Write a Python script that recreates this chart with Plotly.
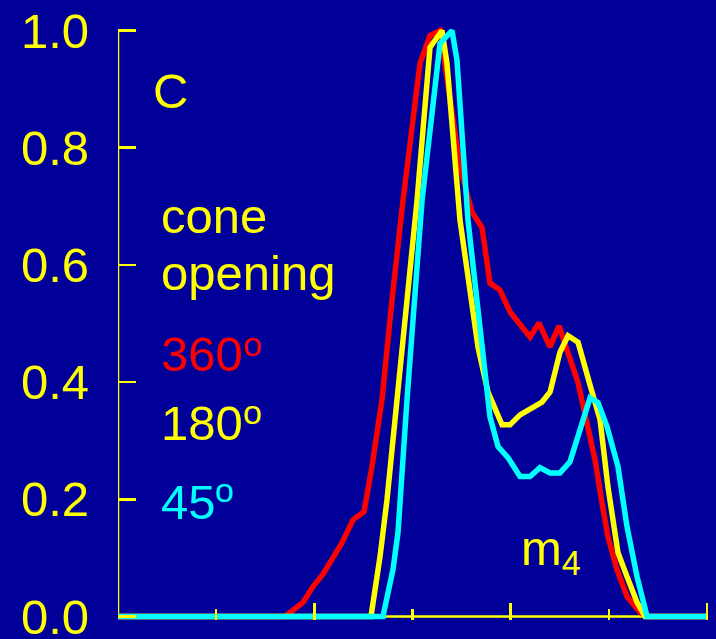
import plotly.graph_objects as go

# ---- data ----
x_red = [0, 1.701, 1.884, 1.986, 2.088, 2.282, 2.394, 2.506, 2.587, 2.689, 2.791, 2.903,
         3.076, 3.178, 3.280, 3.382, 3.484, 3.606, 3.708, 3.789, 3.891, 3.993, 4.197,
         4.288, 4.400, 4.492, 4.604, 4.686, 4.777, 4.859, 4.930, 4.991, 5.083, 5.185,
         5.317, 5.389, 6.0]
y_red = [0, 0, 0.024, 0.051, 0.072, 0.126, 0.165, 0.179, 0.256, 0.370, 0.540, 0.710,
         0.944, 0.991, 1.0, 0.881, 0.767, 0.690, 0.664, 0.569, 0.557, 0.520, 0.477,
         0.501, 0.460, 0.496, 0.443, 0.399, 0.330, 0.267, 0.194, 0.136, 0.080, 0.034,
         0.007, 0, 0]

x_yel = [0, 2.577, 2.669, 2.740, 2.842, 3.046, 3.178, 3.300, 3.351, 3.484, 3.667,
         3.769, 3.912, 3.993, 4.095, 4.217, 4.319, 4.401, 4.502, 4.584, 4.686, 4.808,
         4.910, 4.991, 5.093, 5.185, 5.287, 5.368, 6.0]
y_yel = [0, 0, 0.102, 0.199, 0.370, 0.710, 0.971, 1.0, 0.944, 0.676, 0.460,
         0.383, 0.327, 0.327, 0.344, 0.356, 0.366, 0.383, 0.451, 0.479, 0.468, 0.395,
         0.336, 0.221, 0.109, 0.068, 0.024, 0, 0]

x_cyan = [0, 2.699, 2.801, 2.852, 2.944, 3.097, 3.280, 3.402, 3.453, 3.565, 3.789,
          3.871, 3.973, 4.095, 4.197, 4.298, 4.400, 4.502, 4.604, 4.686, 4.808, 4.890,
          4.981, 5.093, 5.185, 5.287, 5.389, 6.0]
y_cyan = [0, 0, 0.080, 0.143, 0.370, 0.710, 0.978, 1.0, 0.949, 0.676, 0.341,
          0.290, 0.271, 0.239, 0.239, 0.254, 0.245, 0.245, 0.264, 0.307, 0.373, 0.365,
          0.324, 0.256, 0.153, 0.068, 0, 0]

y_ticks = [0.0, 0.2, 0.4, 0.6, 0.8, 1.0]
y_ticktext = ["0.0", "0.2", "0.4", "0.6", "0.8", "1.0"]
x_major = [0, 2, 4, 6]
x_minor = [1, 3, 5]

BG = "#000099"
YEL = "#FFFF00"
RED = "#FF0000"
CYAN = "#00FFFF"
FONT = "Liberation Sans, Arial, sans-serif"
FS = 49
FS_DEG = 34

fig = go.Figure()
fig.add_trace(go.Scatter(x=x_red, y=y_red, mode="lines",
                         line=dict(color=RED, width=5.5), showlegend=False))
fig.add_trace(go.Scatter(x=x_yel, y=y_yel, mode="lines",
                         line=dict(color=YEL, width=5.5), showlegend=False))
fig.add_trace(go.Scatter(x=x_cyan, y=y_cyan, mode="lines",
                         line=dict(color=CYAN, width=5.5), showlegend=False))

# axis lines
fig.add_shape(type="line", xref="x", yref="y", x0=0, x1=0, y0=0, y1=1,
              line=dict(color=YEL, width=2.5), layer="below")
fig.add_shape(type="line", xref="x", yref="y", x0=0, x1=6, y0=0, y1=0,
              line=dict(color=YEL, width=2.5), layer="below")

def ann(text, x, y, color, yanchor="bottom", size=FS):
    fig.add_annotation(text=text, x=x, y=y, xref="x", yref="y", showarrow=False,
                       xanchor="left", yanchor=yanchor,
                       font=dict(family=FONT, size=size, color=color))

ann("C", 0.331, 0.8477, YEL)
ann("cone", 0.4166, 0.6348, YEL)
ann("opening", 0.4166, 0.5359, YEL)
ann("360", 0.4166, 0.398, RED)
ann("o", 1.2509, 0.5010, RED, yanchor="top", size=FS_DEG)
ann("180", 0.4166, 0.2804, YEL)
ann("o", 1.2509, 0.3852, YEL, yanchor="top", size=FS_DEG)
ann("45", 0.4166, 0.1458, CYAN)
ann("o", 0.9657, 0.2523, CYAN, yanchor="top", size=FS_DEG)
ann("m<sub>4</sub>", 4.085, 0.1658, YEL, yanchor="top")

fig.update_layout(
    width=716, height=639,
    margin=dict(l=118, r=7, t=26.5, b=18.5, pad=0, autoexpand=False),
    paper_bgcolor=BG, plot_bgcolor=BG,
    showlegend=False,
    font=dict(family=FONT, size=FS, color=YEL),
    xaxis=dict(range=[0, 6.02], showgrid=False, zeroline=False, showline=False,
               automargin=False,
               tickvals=x_major, ticks="inside", ticklen=17, tickwidth=2.5,
               tickcolor=YEL, showticklabels=False,
               minor=dict(tickvals=x_minor, ticks="inside", ticklen=11,
                          tickwidth=2.5, tickcolor=YEL)),
    yaxis=dict(range=[-0.006, 1.006], showgrid=False, zeroline=False, showline=False,
               automargin=False,
               tickvals=y_ticks, ticktext=y_ticktext, ticks="inside", ticklen=18,
               tickwidth=2.5, tickcolor=YEL, ticklabelstandoff=28,
               ticklabeloverflow="allow",
               tickfont=dict(family=FONT, size=FS, color=YEL)),
)

fig.write_html(
    "out.html",
    config={"displayModeBar": False, "staticPlot": True},
    post_script="document.body.style.margin='0';document.body.style.padding='0';"
                "document.body.style.overflow='hidden';"
                "document.body.style.background='" + BG + "';",
)
